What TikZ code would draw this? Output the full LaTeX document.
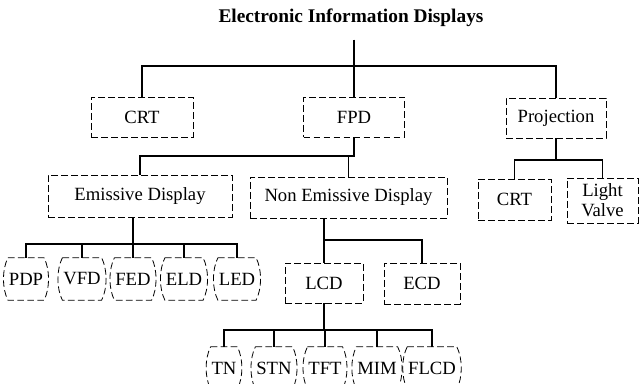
\documentclass[tikz,border=0pt]{standalone}
\usepackage{fontspec}
\setmainfont{Liberation Serif}

\newcommand{\branch}[3]{%
    \foreach \kid in {#3}
        \draw[link] (#1) -- (#1 |- 0,#2) -| (\kid.north);
}

\begin{document}
\begin{tikzpicture}[x=0.75pt,y=-0.75pt,
    every node/.style={font=\fontsize{14}{16}\selectfont},
    box/.style={draw,dash pattern=on 5pt off 2.5pt,line width=0.6pt,
        minimum height=30pt,inner sep=2pt},
    cask/.style={inner xsep=0.5pt,inner ysep=0pt,minimum height=31.5pt},
    link/.style={line width=0.85pt}]
                    {
    \useasboundingbox (0,0) rectangle (644,384);

    \node[font=\bfseries\fontsize{14.5}{17}\selectfont] (title) at (351,18)
        {Electronic Information Displays};
    \coordinate (rootpt) at (354,40);

    % first level
    \node[box,minimum width=76.5pt] (crt) at (142,117) {CRT};
    \node[box,minimum width=75.75pt] (fpd) at (354,117) {FPD};
    \node[box,minimum width=75pt] (prj) at (556,118) {Projection};

    % second level
    \node[box,minimum width=138pt,minimum height=31.5pt] (emis) at (140,196) {Emissive Display};
    \node[box,minimum width=147.75pt,minimum height=30.75pt] (nonem) at (348.5,197.5) {Non Emissive Display};
    \node[box,minimum width=54.75pt,minimum height=30.75pt] (crt2) at (514.5,199.5) {CRT};
    \node[box,minimum width=53.25pt,minimum height=33.75pt,inner sep=1pt,
        align=center,font=\fontsize{14}{15}\selectfont] (lv) at (602.5,200.5) {Light\\Valve};

    % third level
    \node[cask] (pdp) at (26,279) {PDP};
    \node[cask] (vfd) at (82,279) {VFD};
    \node[cask] (fed) at (133,279) {FED};
    \node[cask] (eld) at (184,279) {ELD};
    \node[cask] (led) at (237,279) {LED};
    \node[box,minimum width=58.5pt] (lcd) at (324,283) {LCD};
    \node[box,minimum width=57pt,minimum height=30.75pt] (ecd) at (422,283.5) {ECD};

    % fourth level
    \node[cask] (tn) at (224,368) {TN};
    \node[cask] (stn) at (274,368) {STN};
    \node[cask] (tft) at (325,368) {TFT};
    \node[cask] (mim) at (377,368) {MIM};
    \node[cask] (flcd) at (432,368) {FLCD};

    \foreach \n in {pdp,vfd,fed,eld,led,tn,stn,tft,mim,flcd}
        \draw[dash pattern=on 5pt off 2.5pt,line width=0.6pt]
            (\n.north west) -- (\n.north east)
            .. controls +(6,12) and +(6,-12) .. (\n.south east)
            -- (\n.south west)
            .. controls +(-6,-12) and +(-6,12) .. (\n.north west);

    \coordinate (emdrop) at (emis.south -| fed.north);
    \coordinate (nedrop) at (nonem.south -| lcd.north);

    \branch{rootpt}{66}{crt,fpd,prj}
    \branch{fpd.south}{156}{emis,nonem}
    \branch{prj.south}{160}{crt2,lv}
    \branch{emdrop}{244}{pdp,vfd,fed,eld,led}
    \branch{nedrop}{240}{lcd,ecd}
    \branch{lcd.south}{330}{tn,stn,tft,mim,flcd}
}
\end{tikzpicture}
\end{document}
